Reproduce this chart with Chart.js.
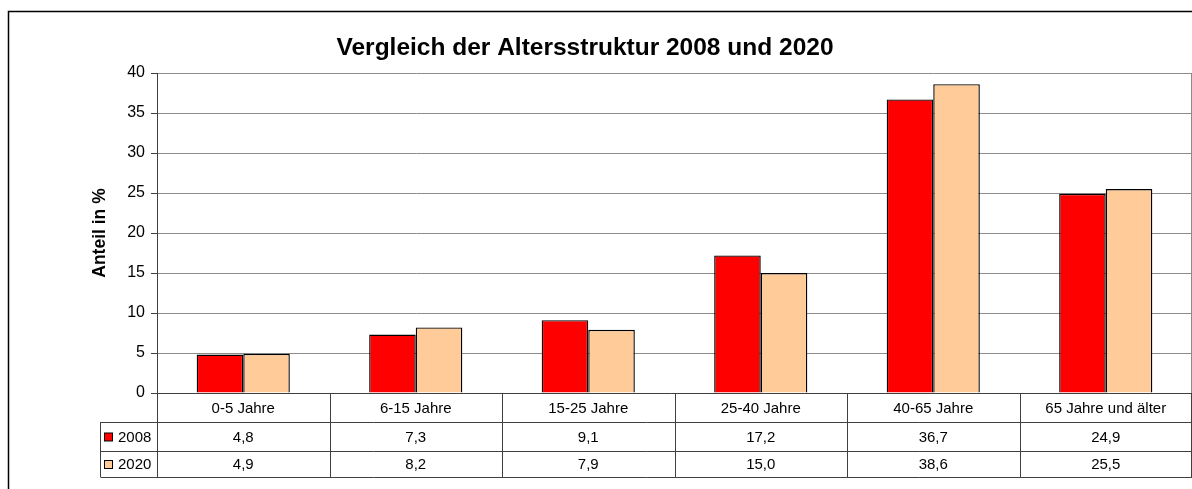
<!DOCTYPE html>
<html lang="de">
<head>
    <meta charset="UTF-8">
    <title>Vergleich der Altersstruktur 2008 und 2020</title>
    <script src="https://cdn.jsdelivr.net/npm/chart.js@4.4.4/dist/chart.umd.min.js"></script>
</head>
<body style="margin: 0; background: #fff;">
    <canvas id="ageChart" width="1192" height="489"></canvas>

    <script>
        // Daten (Anteil in %)
        const categories = ['0-5 Jahre', '6-15 Jahre', '15-25 Jahre', '25-40 Jahre', '40-65 Jahre', '65 Jahre und älter'];
        const seriesNames = ['2008', '2020'];
        const values2008 = [4.8, 7.3, 9.1, 17.2, 36.7, 24.9];
        const values2020 = [4.9, 8.2, 7.9, 15.0, 38.6, 25.5];
        const seriesColors = ['#ff0000', '#ffcc99'];
        const yTicks = [0, 5, 10, 15, 20, 25, 30, 35, 40];

        const FONT = '"Liberation Sans", Arial, sans-serif';
        const fmt = v => v.toFixed(1).replace('.', ',');

        // Rahmen, Titel und Datentabelle unter dem Diagramm
        const tablePlugin = {
            id: 'dataTable',
            afterDraw(chart) {
                const ctx = chart.ctx;
                const area = chart.chartArea;
                const xs = chart.scales.x;
                const colW = area.width / categories.length;
                const rows = [area.bottom, area.bottom + 29, area.bottom + 58, area.bottom + 84];
                const legendLeft = 100.5;

                ctx.save();
                // äußerer Rahmen
                ctx.strokeStyle = '#000';
                ctx.lineWidth = 1.5;
                ctx.strokeRect(8.5, 11.5, 1250, 600);

                // Titel
                ctx.fillStyle = '#000';
                ctx.font = 'bold 24.5px ' + FONT;
                ctx.textAlign = 'center';
                ctx.textBaseline = 'middle';
                ctx.fillText('Vergleich der Altersstruktur 2008 und 2020', 585, 48);

                // rechter Rand der Zeichenfläche
                ctx.strokeStyle = '#8c8c8c';
                ctx.lineWidth = 1;
                ctx.beginPath();
                ctx.moveTo(area.right - 0.5, area.top);
                ctx.lineTo(area.right - 0.5, area.bottom);
                ctx.stroke();

                // Tabellenlinien
                ctx.strokeStyle = '#404040';
                ctx.beginPath();
                ctx.moveTo(area.left - 6, rows[0] + 0.5);
                ctx.lineTo(area.right, rows[0] + 0.5);
                for (let r = 1; r < rows.length; r++) {
                    ctx.moveTo(legendLeft, rows[r] + 0.5);
                    ctx.lineTo(area.right, rows[r] + 0.5);
                }
                for (let i = 0; i <= categories.length; i++) {
                    const x = Math.round(area.left + i * colW) + 0.5 - (i === categories.length ? 1 : 0);
                    ctx.moveTo(x, rows[0]);
                    ctx.lineTo(x, rows[3]);
                }
                ctx.moveTo(legendLeft, rows[1]);
                ctx.lineTo(legendLeft, rows[3]);
                ctx.stroke();

                // Texte
                ctx.font = '15px ' + FONT;
                ctx.fillStyle = '#000';
                ctx.textAlign = 'center';
                const series = [values2008, values2020];
                categories.forEach((c, i) => {
                    const cx = xs.getPixelForValue(i);
                    ctx.fillText(c, cx, (rows[0] + rows[1]) / 2 + 1);
                    series.forEach((s, k) => {
                        ctx.fillText(fmt(s[i]), cx, (rows[k + 1] + rows[k + 2]) / 2 + 1);
                    });
                });

                // Legendenschlüssel
                ctx.textAlign = 'left';
                seriesNames.forEach((name, k) => {
                    const cy = (rows[k + 1] + rows[k + 2]) / 2 + 1;
                    ctx.fillStyle = seriesColors[k];
                    ctx.fillRect(104.5, cy - 4.5, 8, 8);
                    ctx.strokeStyle = '#000';
                    ctx.strokeRect(104.5, cy - 4.5, 8, 8);
                    ctx.fillStyle = '#000';
                    ctx.fillText(name, 118, cy);
                });
                ctx.restore();
            }
        };

        new Chart(document.getElementById('ageChart'), {
            type: 'bar',
            data: {
                labels: categories,
                datasets: [
                    { label: seriesNames[0], data: values2008, backgroundColor: seriesColors[0], borderColor: '#000', borderWidth: 1.4 },
                    { label: seriesNames[1], data: values2020, backgroundColor: seriesColors[1], borderColor: '#000', borderWidth: 1.4 }
                ]
            },
            options: {
                responsive: false,
                animation: false,
                layout: { padding: { left: 90, top: 73, right: 0, bottom: 96 } },
                datasets: { bar: { categoryPercentage: 0.54, barPercentage: 1 } },
                plugins: {
                    legend: { display: false },
                    title: { display: false },
                    tooltip: { enabled: false }
                },
                scales: {
                    x: { display: false },
                    y: {
                        min: 0,
                        max: 40,
                        afterBuildTicks: s => { s.ticks = yTicks.map(v => ({ value: v })); },
                        afterFit: s => { s.width = 67; },
                        ticks: { color: '#000', font: { family: FONT, size: 16 }, padding: 6 },
                        grid: { color: '#8c8c8c', tickColor: '#404040', tickLength: 6 },
                        border: { color: '#404040' },
                        title: {
                            display: true,
                            text: 'Anteil in %',
                            color: '#000',
                            font: { family: FONT, size: 17.5, weight: 'bold' },
                            padding: 0
                        }
                    }
                }
            },
            plugins: [tablePlugin]
        });
    </script>
</body>
</html>
